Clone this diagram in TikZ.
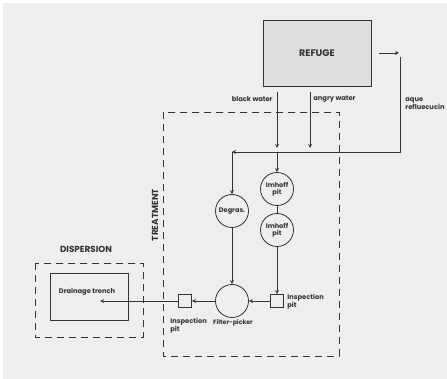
\documentclass[tikz,border=0pt]{standalone}
\usepackage{fontspec}
\setmainfont{Poppins}
\usepackage{tikz}
\usetikzlibrary{arrows,calc}
\definecolor{bggray}{HTML}{EEEEEE}
\definecolor{boxgray}{HTML}{DDDDDD}
\definecolor{inkgray}{HTML}{333333}

\begin{document}
\begin{tikzpicture}[x=1pt,y=-1pt,inkgray,line width=0.8pt,
  pipe/.style={draw=inkgray,-stealth},
  zone/.style={draw=inkgray,dash pattern=on 7pt off 5pt},
  tank/.style={circle,draw=inkgray,minimum size=33pt,inner sep=0pt,align=center,font=\fontsize{6.6}{7}\selectfont\bfseries},
  pit/.style={rectangle,draw=inkgray,minimum size=13pt,inner sep=0pt},
  lbl/.style={font=\fontsize{6.7}{8}\selectfont\bfseries,inner sep=0pt,align=left},
  title/.style={font=\fontsize{8.8}{9}\selectfont\bfseries,inner sep=0pt}]
\useasboundingbox (0,0) rectangle (447,379);
\fill[bggray] (3,3) rectangle (447,379);
\node[draw=inkgray,fill=boxgray,minimum width=108pt,minimum height=66pt,font=\fontsize{9.5}{10}\selectfont\bfseries] (refuge) at (317,53) {REFUGE};
\coordinate (retstart) at (379,53);
\coordinate (retend) at (399,53);
\coordinate (rettop) at (400,57);
\coordinate (split) at (232,152);
\coordinate (bwtop) at (277,92);
\coordinate (bwend) at (277,148);
\coordinate (bwjoin) at (277,152);
\coordinate (awtop) at (310,92);
\coordinate (awend) at (310,148);
\draw[zone] (163,112) rectangle (339,356);
\draw[zone] (35,263) rectangle (143,337);
\node[draw=inkgray,minimum width=78pt,minimum height=47pt] (trench) at (89,296.5) {};
\node[lbl] (trenchlbl) at (87,292) {Drainage trench};
\coordinate (trenchin) at (100,301);
\node[tank] (imhoffa) at (277,189) {Imhoff\\pit};
\node[tank] (imhoffb) at (277,230) {Imhoff\\pit};
\node[tank] (degras) at (232,211) {Degras.};
\node[tank] (filter) at (232,301) {};
\node[pit] (pitright) at (277,301) {};
\node[pit] (pitleft) at (185,301) {};
\node[lbl,anchor=west] (refluxlbl) at (405,104) {aque\\refluecucin};
\node[lbl,anchor=east] (bwlbl) at (273,99) {black water};
\node[lbl,anchor=west] (awlbl) at (313,99) {angry water};
\node[lbl,anchor=west] (pitrightlbl) at (287,302) {Inspection\\pit};
\node[lbl,anchor=north west] (pitleftlbl) at (170,318) {Inspection\\pit};
\node[lbl,font=\fontsize{6.2}{7}\selectfont\bfseries] (filterlbl) at (233,323) {Filter-picker};
\node[title] (displbl) at (86,249) {DISPERSION};
\node[title,rotate=90] (treatlbl) at (155,215) {TREATMENT};
\draw[pipe] (retstart) -- (retend);
\draw[pipe] (rettop) |- (split);
\draw[pipe] (split) -- (degras);
\draw[pipe] (bwtop) -- (bwend);
\draw[pipe] (bwjoin) -- (imhoffa);
\draw[pipe] (awtop) -- (awend);
\draw (imhoffa) -- (imhoffb);
\draw[pipe] (imhoffb) -- (pitright);
\draw[pipe] (degras) -- (filter);
\draw[pipe] (pitright) -- (filter);
\draw[pipe] (filter) -- (pitleft);
\draw[pipe] (pitleft) -- (trenchin);
\end{tikzpicture}
\end{document}
